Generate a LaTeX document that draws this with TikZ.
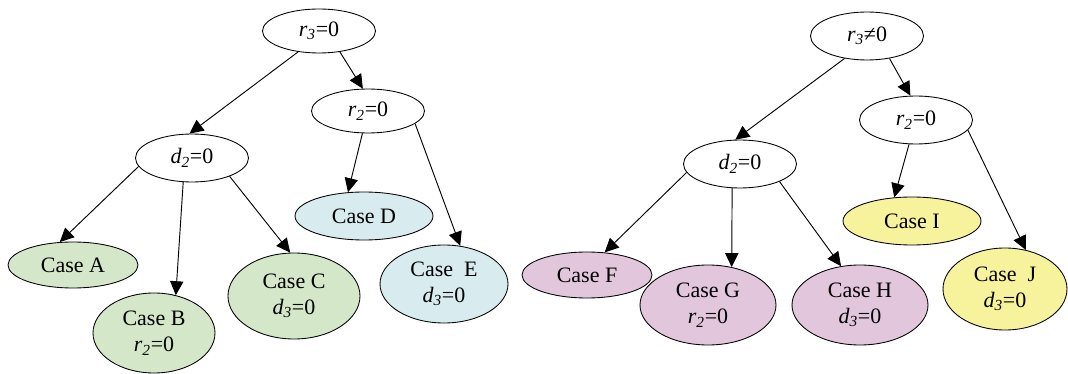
\documentclass[tikz,border=0pt]{standalone}
\usepackage{fontspec}
\setmainfont{Liberation Serif}
\usetikzlibrary{shapes.geometric,arrows.meta}
\definecolor{cgreen}{RGB}{212,231,200}
\definecolor{cblue}{RGB}{216,236,239}
\definecolor{cpink}{RGB}{226,198,219}
\definecolor{cyellow}{RGB}{247,242,156}
\newcommand\vx[2]{\textit{#1\textsubscript{#2}}}
\begin{document}
\begin{tikzpicture}[x=0.75pt,y=-0.75pt,
  ell/.style n args={2}{ellipse,draw,line width=0.65pt,inner sep=0pt,
    minimum width=#1*1.5pt,minimum height=#2*1.5pt,align=center,
    font=\fontsize{16.5}{19.5}\selectfont},
  arr/.style={-{Triangle[length=10.5pt,width=10pt]},line width=0.7pt}]
\useasboundingbox (0,0) rectangle (1068,374);
% left tree
\node[ell={56.5}{22}] (r3) at (319,31) {\vx{r}{3}=0};
\node[ell={56.5}{22}] (r2L) at (368,111) {\vx{r}{2}=0};
\node[ell={56.5}{24}] (d2L) at (192,158) {\vx{d}{2}=0};
\node[ell={65}{23},fill=cgreen] (A) at (73,265) {Case A};
\node[ell={61}{40},fill=cgreen] (B) at (154,333) {Case B\\\vx{r}{2}=0};
\node[ell={66}{43},fill=cgreen] (C) at (294,296) {Case C\\\vx{d}{3}=0};
\node[ell={69}{24},fill=cblue] (D) at (364,216) {Case D};
\node[ell={64}{39},fill=cblue] (E) at (444,284) {Case~~E\\\vx{d}{3}=0};
\draw[arr] (r3.225) -- (d2L.96);
\draw[arr] (r3.315) -- (r2L.103);
\draw[arr] (d2L.189) -- (A.120);
\draw[arr] (d2L.250) -- (B.60);
\draw[arr] (d2L.334) -- (C.95);
\draw[arr] (r2L.256) -- (D.124);
\draw[arr] (r2L.345) -- (E.67);
% right tree
\node[ell={56.5}{24}] (R3) at (867,36) {\vx{r}{3}≠0};
\node[ell={56.5}{24}] (R2) at (916,120) {\vx{r}{2}=0};
\node[ell={56.5}{24}] (d2R) at (740,164) {\vx{d}{2}=0};
\node[ell={65}{23},fill=cpink] (F) at (587,275) {Case F};
\node[ell={68}{40},fill=cpink] (G) at (708,305) {Case G\\\vx{r}{2}=0};
\node[ell={68}{40},fill=cpink] (H) at (860,305) {Case H\\\vx{d}{3}=0};
\node[ell={69}{24},fill=cyellow] (I) at (912,221) {Case I};
\node[ell={62}{41},fill=cyellow] (J) at (1005,289) {Case~~J\\\vx{d}{3}=0};
\draw[arr] (R3.225) -- (d2R.101);
\draw[arr] (R3.315) -- (R2.103);
\draw[arr] (d2R.189) -- (F.52);
\draw[arr] (d2R.252) -- (G.58);
\draw[arr] (d2R.336) -- (H.116);
\draw[arr] (R2.254) -- (I.127);
\draw[arr] (R2.349) -- (J.62);
\end{tikzpicture}
\end{document}
